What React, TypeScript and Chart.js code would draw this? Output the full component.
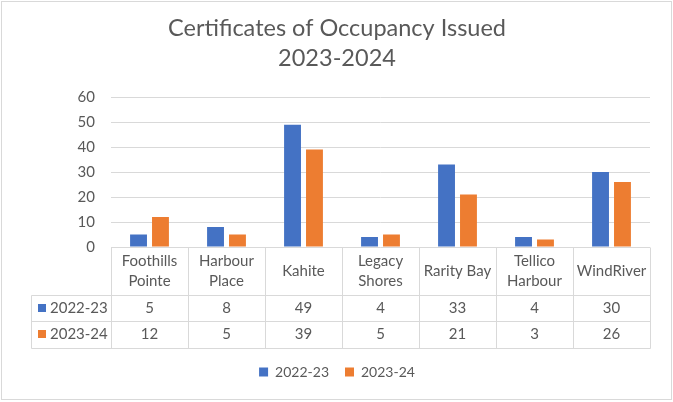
import { useEffect, useRef } from "react";
import { Chart, registerables } from "chart.js";

Chart.register(...registerables);

const titleLines = ["Certificates of Occupancy Issued", "2023-2024"];
const categories = [
  ["Foothills", "Pointe"],
  ["Harbour", "Place"],
  ["Kahite"],
  ["Legacy", "Shores"],
  ["Rarity Bay"],
  ["Tellico", "Harbour"],
  ["WindRiver"],
];
const seriesNames = ["2022-23", "2023-24"];
const values2223 = [5, 8, 49, 4, 33, 4, 30];
const values2324 = [12, 5, 39, 5, 21, 3, 26];
const yMin = 0;
const yMax = 60;
const yStep = 10;

const seriesColors = ["#4472C4", "#ED7D31"];
const textColor = "#595959";
const lineColor = "#d9d9d9";
const fontFamily = "Lato, 'Open Sans', sans-serif";

const backgroundPlugin = {
  id: "bgBorder",
  beforeDraw(chart: any) {
    const { ctx, width, height } = chart;
    ctx.save();
    ctx.fillStyle = "#ffffff";
    ctx.fillRect(0, 0, width, height);
    ctx.strokeStyle = lineColor;
    ctx.lineWidth = 1;
    ctx.strokeRect(1.5, 1.5, width - 3, height - 4);
    ctx.restore();
  },
};

const centerShiftPlugin = {
  id: "centerShift",
  afterLayout(chart: any) {
    const boxes = [chart.legend, chart.titleBlock];
    boxes.forEach((b: any) => {
      if (b) {
        b.left += 12;
        b.right += 12;
      }
    });
  },
};

const tablePlugin = {
  id: "dataTable",
  afterDraw(chart: any) {
    const { ctx, chartArea, scales } = chart;
    const xs = scales.x;
    const n = categories.length;
    const catW = xs.getPixelForValue(1) - xs.getPixelForValue(0);
    const top = Math.round(chartArea.bottom) + 0.5;
    const headerH = 47;
    const rowH = 26.5;
    const leftEdge = 31.5;
    const right = xs.getPixelForValue(n - 1) + catW / 2;
    const bottom = top + headerH + 2 * rowH;
    const rows = [values2223, values2324];

    ctx.save();
    ctx.strokeStyle = lineColor;
    ctx.lineWidth = 1;
    ctx.beginPath();
    for (let i = 0; i <= n; i++) {
      const px = Math.round(xs.getPixelForValue(i) - catW / 2) + 0.5;
      ctx.moveTo(px, top);
      ctx.lineTo(px, Math.round(bottom) + 0.5);
    }
    for (let r = 0; r <= 2; r++) {
      const py = Math.round(top + headerH + r * rowH) + 0.5;
      ctx.moveTo(leftEdge, py);
      ctx.lineTo(Math.round(right) + 0.5, py);
    }
    ctx.moveTo(leftEdge, Math.round(top + headerH) + 0.5);
    ctx.lineTo(leftEdge, Math.round(bottom) + 0.5);
    ctx.stroke();

    ctx.fillStyle = textColor;
    ctx.font = `15px ${fontFamily}`;
    ctx.textAlign = "center";
    ctx.textBaseline = "middle";
    const lh = 20.5;
    categories.forEach((lines, i) => {
      const cx = xs.getPixelForValue(i);
      const cy = top + headerH / 2;
      lines.forEach((ln, j) => {
        ctx.fillText(ln, cx, cy + (j - (lines.length - 1) / 2) * lh);
      });
    });
    rows.forEach((vals, r) => {
      const cy = top + headerH + r * rowH + rowH / 2;
      vals.forEach((v, i) => {
        ctx.fillText(String(v), xs.getPixelForValue(i), cy);
      });
      ctx.fillStyle = seriesColors[r];
      ctx.fillRect(38, Math.round(cy - 4), 8, 8);
      ctx.fillStyle = textColor;
      ctx.textAlign = "left";
      ctx.fillText(seriesNames[r], 50, cy);
      ctx.textAlign = "center";
    });
    ctx.restore();
  },
};

export default function App() {
  const ref = useRef<HTMLCanvasElement>(null);
  useEffect(() => {
    if (!ref.current) return;
    const chart = new Chart(ref.current, {
      type: "bar",
      data: {
        labels: categories.map((c) => c.join(" ")),
        datasets: [
          { label: seriesNames[0], data: values2223, backgroundColor: seriesColors[0] },
          { label: seriesNames[1], data: values2324, backgroundColor: seriesColors[1] },
        ],
      },
      options: {
        responsive: false,
        animation: false,
        devicePixelRatio: 1,
        layout: { padding: { left: 0, right: 23, top: 0, bottom: 13 } },
        datasets: { bar: { categoryPercentage: 0.57, barPercentage: 0.77 } },
        plugins: {
          tooltip: { enabled: false },
          title: {
            display: true,
            text: titleLines,
            color: textColor,
            font: { family: fontFamily, size: 23.5, weight: "normal", lineHeight: 1.28 },
            padding: { top: 13, bottom: 24 },
          },
          legend: {
            position: "bottom",
            labels: {
              boxWidth: 9,
              boxHeight: 9,
              padding: 16,
              color: textColor,
              font: { family: fontFamily, size: 14 },
            },
          },
        },
        scales: {
          x: {
            ticks: { display: false },
            grid: { display: false },
            border: { display: false },
            afterFit: (s: any) => {
              s.height = 102;
            },
          },
          y: {
            min: yMin,
            max: yMax,
            ticks: {
              stepSize: yStep,
              color: textColor,
              padding: 16,
              font: { family: fontFamily, size: 15 },
            },
            grid: { color: lineColor, drawTicks: false },
            border: { display: false },
            afterFit: (s: any) => {
              s.width = 111;
            },
          },
        },
      },
      plugins: [backgroundPlugin, centerShiftPlugin, tablePlugin],
    } as any);
    return () => chart.destroy();
  }, []);
  return (
    <div style={{ position: "absolute", left: 0, top: 0, width: 673, height: 402 }}>
      <canvas ref={ref} width={673} height={402} />
    </div>
  );
}
